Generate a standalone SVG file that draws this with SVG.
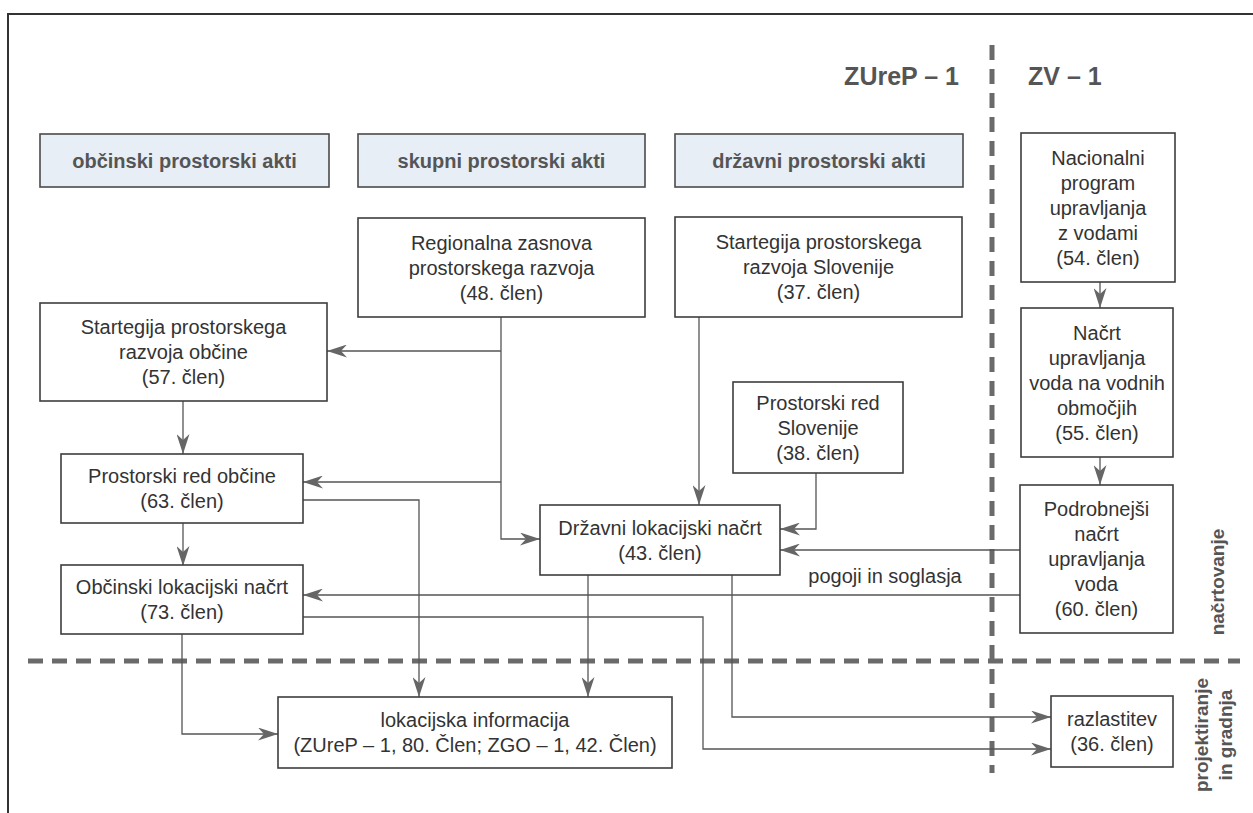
<svg xmlns="http://www.w3.org/2000/svg" width="1253" height="813" viewBox="0 0 1253 813">
<style>
.box{fill:#fff;stroke:#3e3e3e;stroke-width:1.6}
.hdr{fill:#e8eef5;stroke:#4a4a4a;stroke-width:1.6}
.t{font-family:"Liberation Sans",Arial,sans-serif;font-size:20px;fill:#333;text-anchor:middle;dominant-baseline:central}
.h{font-family:"Liberation Sans",Arial,sans-serif;font-size:20px;font-weight:bold;fill:#555;text-anchor:middle;dominant-baseline:central}
.law{font-family:"Liberation Sans",Arial,sans-serif;font-size:25px;font-weight:bold;fill:#555}
.side{font-family:"Liberation Sans",Arial,sans-serif;font-size:19px;font-weight:bold;fill:#555;text-anchor:middle;dominant-baseline:central}
.c{fill:none;stroke:#555;stroke-width:1.3;marker-end:url(#ah)}
.dash{fill:none;stroke:#6a6a6a;stroke-width:5;stroke-dasharray:15 9}
</style>
<defs>
<marker id="ah" viewBox="0 0 20 13" refX="20" refY="6.5" markerWidth="20" markerHeight="13" markerUnits="userSpaceOnUse" orient="auto">
<path d="M0,0 L20,6.5 L0,13 L6,6.5 z" fill="#666"/>
</marker>
</defs>
<rect width="1253" height="813" fill="#fff"/>
<g id="frame" fill="none" stroke="#333" stroke-width="2">
<path d="M8,813 L8,14 L1253,14"/>
</g>
<g id="dividers">
<line class="dash" x1="992" y1="45" x2="992" y2="773"/>
<line class="dash" x1="28" y1="661" x2="1240" y2="661"/>
</g>
<g id="labels">
<text class="law" x="959" y="85" text-anchor="end">ZUreP – 1</text>
<text class="law" x="1028" y="85">ZV – 1</text>
<text class="side" transform="translate(1217,582) rotate(-90)">načrtovanje</text>
<text class="side" transform="translate(1201,735) rotate(-90)">projektiranje</text>
<text class="side" transform="translate(1225,735) rotate(-90)">in gradnja</text>
</g>
<g id="connectors">
<polyline class="c" points="501,317 501,539 540,539"/>
<polyline class="c" points="501,351 327,351"/>
<polyline class="c" points="501,482 303,482"/>
<polyline class="c" points="699,317 699,505"/>
<polyline class="c" points="816,473 816,529 780,529"/>
<polyline class="c" points="1020,550 780,550"/>
<polyline class="c" points="1020,595 303,595"/>
<polyline class="c" points="183,401 183,454"/>
<polyline class="c" points="183,523 183,566"/>
<polyline class="c" points="303,500 419,500 419,697"/>
<polyline class="c" points="182,634 182,734 278,734"/>
<polyline class="c" points="303,617 703,617 703,749 1051,749"/>
<polyline class="c" points="588,575 588,697"/>
<polyline class="c" points="732,575 732,717 1051,717"/>
<polyline class="c" points="1100,282 1100,308"/>
<polyline class="c" points="1100,457 1100,485"/>
<text class="t" x="885" y="576">pogoji in soglasja</text>
</g>
<g id="hdr-obcinski"><rect class="hdr" x="40" y="134" width="289" height="53"/><text class="h" x="184.5" y="160.5">občinski prostorski akti</text></g>
<g id="hdr-skupni"><rect class="hdr" x="358" y="134" width="287" height="53"/><text class="h" x="501.5" y="160.5">skupni prostorski akti</text></g>
<g id="hdr-drzavni"><rect class="hdr" x="675" y="134" width="288" height="53"/><text class="h" x="819" y="160.5">državni prostorski akti</text></g>
<g id="regionalna"><rect class="box" x="358" y="218" width="287" height="99"/>
<text class="t" x="501.5" y="242.5">Regionalna zasnova</text><text class="t" x="501.5" y="267.5">prostorskega razvoja</text><text class="t" x="501.5" y="292.5">(48. člen)</text></g>
<g id="strategija-slo"><rect class="box" x="675" y="217" width="287" height="100"/>
<text class="t" x="818.5" y="242">Startegija prostorskega</text><text class="t" x="818.5" y="267">razvoja Slovenije</text><text class="t" x="818.5" y="292">(37. člen)</text></g>
<g id="nacionalni"><rect class="box" x="1021" y="133" width="154" height="149"/>
<text class="t" x="1098" y="157.5">Nacionalni</text><text class="t" x="1098" y="182.5">program</text><text class="t" x="1098" y="207.5">upravljanja</text><text class="t" x="1098" y="232.5">z vodami</text><text class="t" x="1098" y="257.5">(54. člen)</text></g>
<g id="nacrt-upravljanja"><rect class="box" x="1021" y="308" width="152" height="149"/>
<text class="t" x="1097" y="332.5">Načrt</text><text class="t" x="1097" y="357.5">upravljanja</text><text class="t" x="1097" y="382.5">voda na vodnih</text><text class="t" x="1097" y="407.5">območjih</text><text class="t" x="1097" y="432.5">(55. člen)</text></g>
<g id="podrobnejsi"><rect class="box" x="1020" y="485" width="153" height="148"/>
<text class="t" x="1096.5" y="509">Podrobnejši</text><text class="t" x="1096.5" y="534">načrt</text><text class="t" x="1096.5" y="559">upravljanja</text><text class="t" x="1096.5" y="584">voda</text><text class="t" x="1096.5" y="609">(60. člen)</text></g>
<g id="strategija-obcine"><rect class="box" x="40" y="303" width="287" height="98"/>
<text class="t" x="183.5" y="327">Startegija prostorskega</text><text class="t" x="183.5" y="352">razvoja občine</text><text class="t" x="183.5" y="377">(57. člen)</text></g>
<g id="prostorski-red-obcine"><rect class="box" x="61" y="454" width="242" height="69"/>
<text class="t" x="182" y="476">Prostorski red občine</text><text class="t" x="182" y="501">(63. člen)</text></g>
<g id="obcinski-lokacijski"><rect class="box" x="61" y="565" width="242" height="69"/>
<text class="t" x="182" y="587">Občinski lokacijski načrt</text><text class="t" x="182" y="612">(73. člen)</text></g>
<g id="prostorski-red-slo"><rect class="box" x="733" y="382" width="170" height="91"/>
<text class="t" x="818" y="402.5">Prostorski red</text><text class="t" x="818" y="427.5">Slovenije</text><text class="t" x="818" y="452.5">(38. člen)</text></g>
<g id="drzavni-lokacijski"><rect class="box" x="540" y="505" width="240" height="70"/>
<text class="t" x="660" y="527.5">Državni lokacijski načrt</text><text class="t" x="660" y="552.5">(43. člen)</text></g>
<g id="lokacijska-informacija"><rect class="box" x="278" y="697" width="394" height="71"/>
<text class="t" x="475" y="720">lokacijska informacija</text><text class="t" x="475" y="745">(ZUreP – 1, 80. Člen; ZGO – 1, 42. Člen)</text></g>
<g id="razlastitev"><rect class="box" x="1051" y="696" width="122" height="71"/>
<text class="t" x="1112" y="719">razlastitev</text><text class="t" x="1112" y="744">(36. člen)</text></g>
</svg>
